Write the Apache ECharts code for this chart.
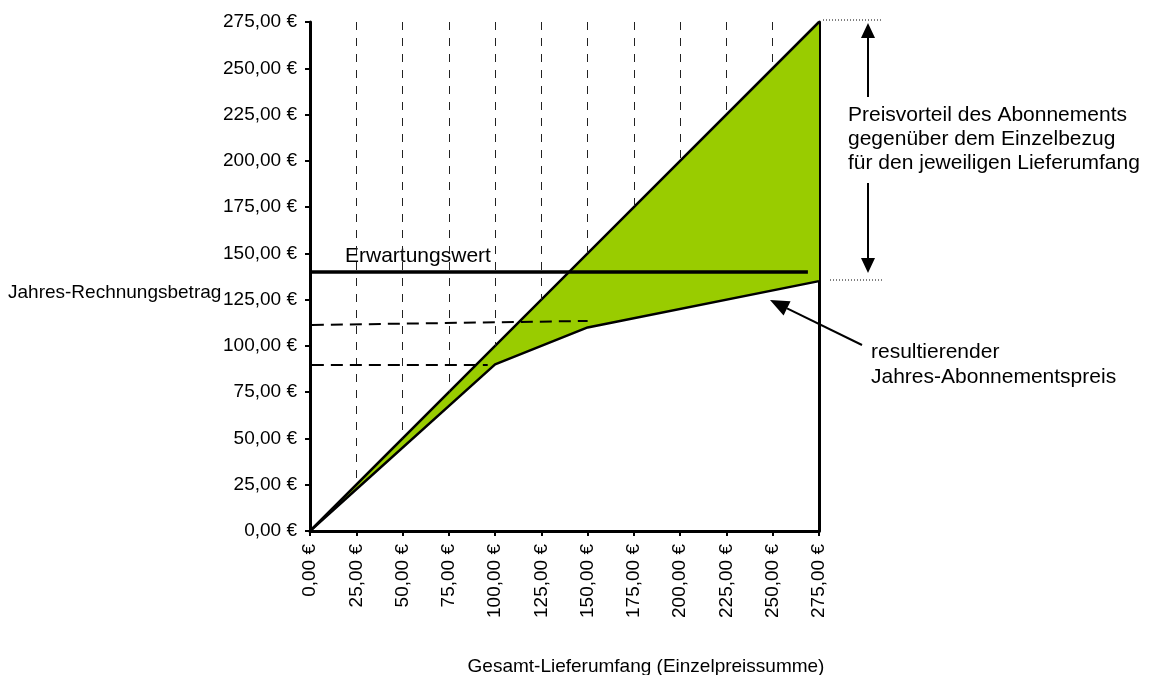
<!DOCTYPE html>
<html>
<head>
<meta charset="utf-8">
<script src="https://cdn.jsdelivr.net/npm/echarts@6/dist/echarts.min.js"></script>
<style>
  html, body { margin: 0; padding: 0; background: #fff; }
  #chartDiv { width: 1156px; height: 675px; }
</style>
</head>
<body>
<div id="chartDiv"></div>
<script>
// Stützpunkte (Einzelpreissumme) und zugehörige Preise
var lieferumfang = [0, 100, 150, 275];
var einzelPreis = [0, 100, 150, 275];
var aboPreis = [0, 90, 110, 135];

// Erwartungswert und Hilfslinien
var erwartungswert = 140;
var erwartungsEnde = 269;
var hilfslinie1 = [[1, 90], [96, 90]];
var hilfslinie2 = [[1, 111.3], [150, 113.5]];

// senkrechte Rasterlinien
var rasterX = [25, 50, 75, 100, 125, 150, 175, 200, 225, 250];
var achsenMax = 275;
var achsenSchritt = 25;

var myChart = echarts.init(document.getElementById("chartDiv"));

function euro(v) {
  return v.toFixed(2).replace(".", ",") + " €";
}

var aboData = [];
var einzelData = [];
for (var i = 0; i < lieferumfang.length; i++) {
  aboData.push([lieferumfang[i], aboPreis[i]]);
  einzelData.push([lieferumfang[i], einzelPreis[i]]);
}

// von oben nach unten bis zur Diagonale
var rasterLines = [];
for (var j = 0; j < rasterX.length; j++) {
  rasterLines.push([{ coord: [rasterX[j], achsenMax] }, { coord: [rasterX[j], rasterX[j]] }]);
}

var font = "Liberation Sans, Arial, sans-serif";

// Pfeil als Linie + Dreieck (Pixel)
function arrow(x1, y1, x2, y2, len, half) {
  var dx = x2 - x1, dy = y2 - y1;
  var l = Math.sqrt(dx * dx + dy * dy);
  var ux = dx / l, uy = dy / l;
  var bx = x2 - ux * len, by = y2 - uy * len;
  var px = -uy * half, py = ux * half;
  return [
    { type: "line", z: 100, shape: { x1: x1, y1: y1, x2: bx, y2: by }, style: { stroke: "#000", lineWidth: 2 } },
    { type: "polygon", z: 100, shape: { points: [[x2, y2], [bx + px, by + py], [bx - px, by - py]] }, style: { fill: "#000" } }
  ];
}

var graphics = [
  { type: "text", left: 8, top: 283, style: { text: "Jahres-Rechnungsbetrag", font: "19px " + font, fill: "#000" } },
  { type: "text", x: 646, y: 667, style: { text: "Gesamt-Lieferumfang (Einzelpreissumme)", font: "19px " + font, fill: "#000", textAlign: "center", textVerticalAlign: "middle" } },
  { type: "text", x: 345, y: 256, style: { text: "Erwartungswert", font: "21px " + font, fill: "#000", textVerticalAlign: "middle" } },
  { type: "text", x: 848, y: 139, style: { text: "Preisvorteil des Abonnements\ngegenüber dem Einzelbezug\nfür den jeweiligen Lieferumfang", font: "21px " + font, fill: "#000", lineHeight: 24, textVerticalAlign: "middle" } },
  { type: "text", x: 871, y: 365, style: { text: "resultierender\nJahres-Abonnementspreis", font: "21px " + font, fill: "#000", lineHeight: 25, textVerticalAlign: "middle" } },
  { type: "line", shape: { x1: 823, y1: 20, x2: 882, y2: 20 }, style: { stroke: "#000", lineWidth: 1, lineDash: [1, 2] } },
  { type: "line", shape: { x1: 830, y1: 280, x2: 884, y2: 280 }, style: { stroke: "#000", lineWidth: 1, lineDash: [1, 2] } }
];
graphics = graphics
  .concat(arrow(868, 97, 868, 23, 15, 7))
  .concat(arrow(868, 183, 868, 273, 15, 7))
  .concat(arrow(862, 345, 770, 300, 19, 8));

// grüne Fläche zwischen Einzelbezug (oben) und Abo-Preis (unten)
function renderVorteil(params, api) {
  var pts = [];
  for (var k = 0; k < einzelData.length; k++) pts.push(api.coord(einzelData[k]));
  for (var m = aboData.length - 1; m >= 0; m--) pts.push(api.coord(aboData[m]));
  return { type: "polygon", shape: { points: pts }, style: { fill: "#99cc00" } };
}

var lineBase = { type: "line", symbol: "none", lineStyle: { color: "#000", width: 2.5 }, z: 3 };

var option = {
  animation: false,
  grid: { left: 310, right: 337, top: 22, bottom: 144 },
  xAxis: {
    type: "value",
    min: 0,
    max: achsenMax,
    interval: achsenSchritt,
    axisLine: { show: true, lineStyle: { color: "#000", width: 3 } },
    axisTick: { show: true, length: 5, lineStyle: { color: "#000", width: 2 } },
    axisLabel: { rotate: 90, margin: 13, color: "#000", fontSize: 19, fontFamily: font, formatter: euro },
    splitLine: { show: false }
  },
  yAxis: [
    {
      type: "value",
      min: 0,
      max: achsenMax,
      interval: achsenSchritt,
      axisLine: { show: true, lineStyle: { color: "#000", width: 3 } },
      axisTick: { show: true, length: 5, lineStyle: { color: "#000", width: 2 } },
      axisLabel: { margin: 13, color: "#000", fontSize: 19, fontFamily: font, formatter: euro },
      splitLine: { show: false }
    },
    {
      type: "value",
      position: "right",
      min: 0,
      max: achsenMax,
      interval: achsenSchritt,
      axisLine: { show: true, lineStyle: { color: "#000", width: 3 } },
      axisTick: { show: false },
      axisLabel: { show: false },
      splitLine: { show: false }
    }
  ],
  graphic: graphics,
  series: [
    {
      name: "Preisvorteil",
      type: "custom",
      data: [[0, 0]],
      renderItem: renderVorteil,
      z: 1,
      silent: true
    },
    Object.assign({}, lineBase, {
      name: "Einzelbezug",
      data: einzelData,
      markLine: {
        silent: true,
        symbol: "none",
        label: { show: false },
        lineStyle: { color: "#222", width: 1, type: [8, 8] },
        data: rasterLines
      }
    }),
    Object.assign({}, lineBase, {
      name: "Abo",
      data: aboData,
      markLine: {
        silent: true,
        symbol: "none",
        label: { show: false },
        data: [
          [{ coord: [0, erwartungswert], lineStyle: { color: "#000", width: 3.5, type: "solid" } }, { coord: [erwartungsEnde, erwartungswert] }],
          [{ coord: hilfslinie1[0], lineStyle: { color: "#000", width: 2, type: [12, 7] } }, { coord: hilfslinie1[1] }],
          [{ coord: hilfslinie2[0], lineStyle: { color: "#000", width: 2, type: [12, 7] } }, { coord: hilfslinie2[1] }]
        ]
      }
    })
  ]
};

myChart.setOption(option);
</script>
</body>
</html>
